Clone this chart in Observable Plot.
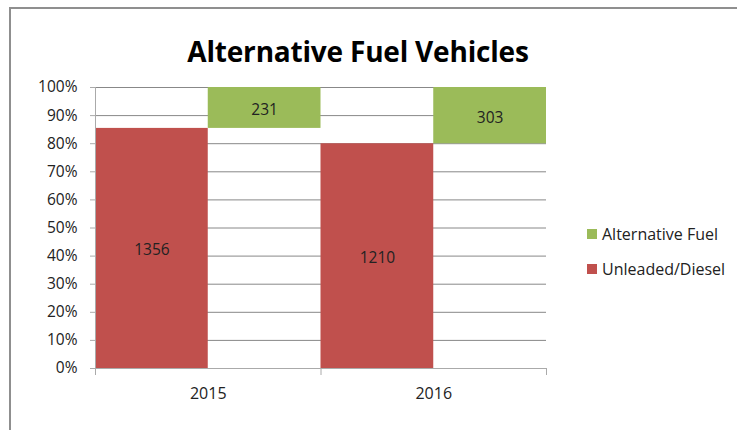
<!DOCTYPE html>
<html>
<head>
<meta charset="utf-8">
<script src="https://cdn.jsdelivr.net/npm/d3@7"></script>
<script src="https://cdn.jsdelivr.net/npm/@observablehq/plot@0.6"></script>
<style>
  html, body { margin: 0; padding: 0; background: #fff; }
  #wrap { position: relative; width: 737px; height: 430px; overflow: hidden; font-family: "Open Sans", sans-serif; }
  #border { position: absolute; left: 9px; top: 7px; right: -5px; bottom: -5px; border-top: 2px solid #8f8f8f; border-left: 2px solid #8f8f8f; }
  #title { position: absolute; left: 0; width: 716px; top: 32px; text-align: center; font-size: 28px; font-weight: bold; color: #000; letter-spacing: -0.2px; }
  #legend { position: absolute; left: 587px; top: 216px; font-size: 16px; color: #222; }
  .item { display: flex; align-items: center; height: 35px; }
  .sw { width: 10px; height: 10px; margin-right: 5px; }
  svg { position: absolute; left: 0; top: 0; }
</style>
</head>
<body>
<div id="wrap">
  <div id="border"></div>
  <div id="chart"></div>
  <div id="title"></div>
  <div id="legend"></div>
</div>
<script>
const title = "Alternative Fuel Vehicles";
const years = ["2015", "2016"];
const series = ["Unleaded/Diesel", "Alternative Fuel"];
const unleaded = [1356, 1210];
const alternative = [231, 303];
const yTicks = [0, 0.1, 0.2, 0.3, 0.4, 0.5, 0.6, 0.7, 0.8, 0.9, 1];
const colors = ["#C0504D", "#9BBB59"];

const rows = [];
years.forEach((year, i) => {
  const vals = [unleaded[i], alternative[i]];
  const total = d3.sum(vals);
  let acc = 0;
  vals.forEach((v, s) => {
    rows.push({year, series: series[s], value: v,
      x1: i + s / 2, x2: i + (s + 1) / 2,
      y1: acc / total, y2: (acc + v) / total});
    acc += v;
  });
});

const chart = Plot.plot({
  width: 737,
  height: 430,
  marginLeft: 95,
  marginRight: 191,
  marginTop: 87,
  marginBottom: 62,
  style: {fontFamily: "Open Sans, sans-serif", fontSize: "15px", color: "#222", background: "transparent"},
  x: {domain: [0, years.length], axis: null},
  y: {domain: [0, 1], axis: null},
  color: {domain: series, range: colors},
  marks: [
    Plot.gridY(yTicks, {stroke: "#888", strokeOpacity: 1}),
    Plot.rect(rows, {x1: "x1", x2: "x2", y1: "y1", y2: "y2", fill: "series"}),
    Plot.text(rows, {x: d => (d.x1 + d.x2) / 2, y: d => (d.y1 + d.y2) / 2, dy: 2, text: d => String(d.value), fill: "#222", fontSize: 15.5}),
    Plot.ruleX([0], {stroke: "#aaa"}),
    Plot.ruleY([0], {stroke: "#aaa"}),
    Plot.axisY({ticks: yTicks, tickFormat: d => Math.round(d * 100) + "%", tickSize: 5, tickPadding: 13, stroke: "#aaa", color: "#222", fontSize: 15.5}),
    Plot.axisX({ticks: d3.range(years.length + 1), tickFormat: () => "", tickSize: 7, stroke: "#aaa"}),
    Plot.axisX({ticks: years.map((y, i) => i + 0.5), tickFormat: d => years[Math.floor(d)], tickSize: 0, tickPadding: 19, color: "#222", fontSize: 16})
  ]
});
document.getElementById("chart").appendChild(chart);
document.getElementById("title").textContent = title;

const legend = document.getElementById("legend");
[1, 0].forEach(s => {
  const it = document.createElement("div");
  it.className = "item";
  const sw = document.createElement("div");
  sw.className = "sw";
  sw.style.background = colors[s];
  const t = document.createElement("span");
  t.textContent = series[s];
  it.appendChild(sw); it.appendChild(t);
  legend.appendChild(it);
});
</script>
</body>
</html>
